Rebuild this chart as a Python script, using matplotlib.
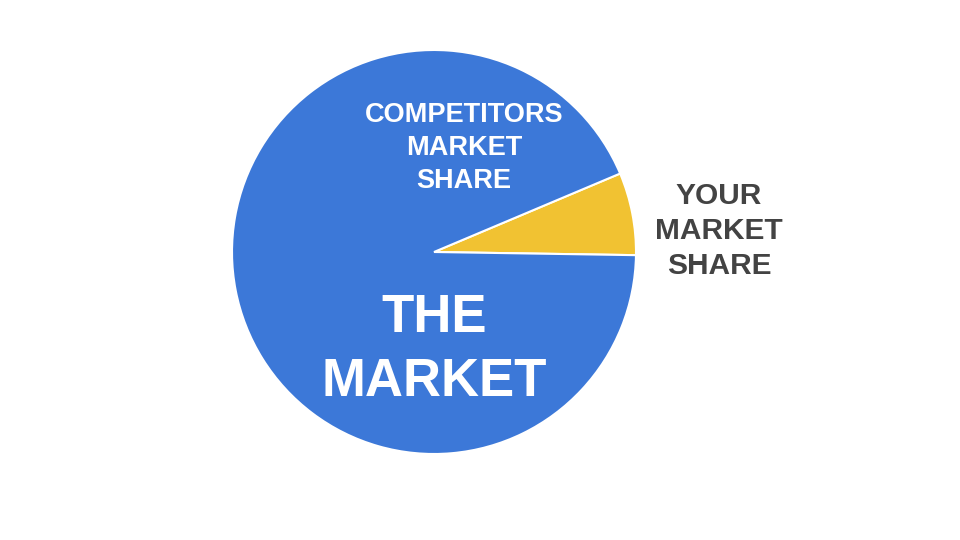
import matplotlib
matplotlib.use('Agg')
import matplotlib.pyplot as plt

plt.rcParams['font.family'] = ['Liberation Sans', 'DejaVu Sans']

# market share (%), yellow slice first
shares = [6.6, 93.4]
colors = ['#f1c232', '#3c78d8']
market_label = 'THE\nMARKET'
competitors_label = 'COMPETITORS\nMARKET\nSHARE'
your_label = 'YOUR\nMARKET\nSHARE'

fig = plt.figure(figsize=(9.6, 5.4), dpi=100)
ax = fig.add_axes([0, 0, 1, 1])

cx, cy, r = 434, 252, 202
# y axis is inverted (pixel style), so draw clockwise to appear counterclockwise
ax.pie(shares, colors=colors, center=(cx, cy), radius=r, startangle=0.9,
       counterclock=False, wedgeprops=dict(edgecolor='white', linewidth=1.5))
ax.set_xlim(0, 960)
ax.set_ylim(540, 0)
ax.set_aspect('auto')
ax.axis('off')

ax.text(cx, 350, market_label, color='white', fontsize=38, fontweight='bold',
        ha='center', va='center', linespacing=1.35, multialignment='center')
ax.text(464, 148, competitors_label, color='white', fontsize=19.5,
        fontweight='bold', ha='center', va='center', linespacing=1.33,
        multialignment='center')
ax.text(719, 231, your_label, color='#434343', fontsize=21.5,
        fontweight='bold', ha='center', va='center', linespacing=1.34,
        multialignment='center')

fig.savefig('out.png', dpi=100)
